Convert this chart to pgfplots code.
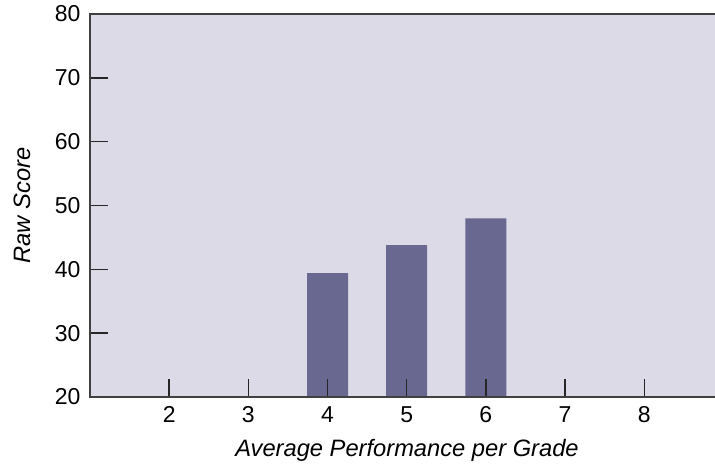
\documentclass[border=0pt]{standalone}
\usepackage{fontspec}
\setmainfont{Liberation Sans}
\usepackage{pgfplots}
\pgfplotsset{compat=1.18}
\definecolor{bg}{RGB}{220,218,231}
\definecolor{barc}{RGB}{105,104,144}
\begin{document}
\begin{tikzpicture}
\begin{axis}[
  at={(0,0)}, anchor=south west,
  scale only axis, width=633.4pt, height=383pt,
  xmin=1, xmax=9, ymin=20, ymax=80,
  xtick={2,...,8}, ytick={20,30,...,80},
  tickpos=left,
  axis on top,
  major tick length=18pt,
  tick style={black!85, line width=1.4pt},
  axis line style={line width=1.6pt, color=black!75},
  axis background/.style={fill=bg},
  tick label style={font=\fontsize{23}{23}\selectfont},
  /pgf/number format/assume math mode=true,
  yticklabel style={xshift=-6pt},
  xticklabel style={yshift=-6pt},
  xlabel={\itshape Average Performance per Grade},
  ylabel={\itshape Raw Score},
  label style={font=\fontsize{23.7}{23.7}\selectfont},
  xlabel style={at={(axis description cs:0.5005,-0.14)}, anchor=center},
  ylabel style={at={(axis description cs:-0.1074,0.5)}, anchor=center},
  tick align=inside, xtick align=inside,
]
\addplot[ybar, bar width=41pt, fill=barc, draw=none] coordinates {(4,39.4) (5,43.8) (6,48)};
\end{axis}
\pgfresetboundingbox
\path (-90pt,-67pt) rectangle (625pt,397pt);
\end{tikzpicture}
\end{document}
